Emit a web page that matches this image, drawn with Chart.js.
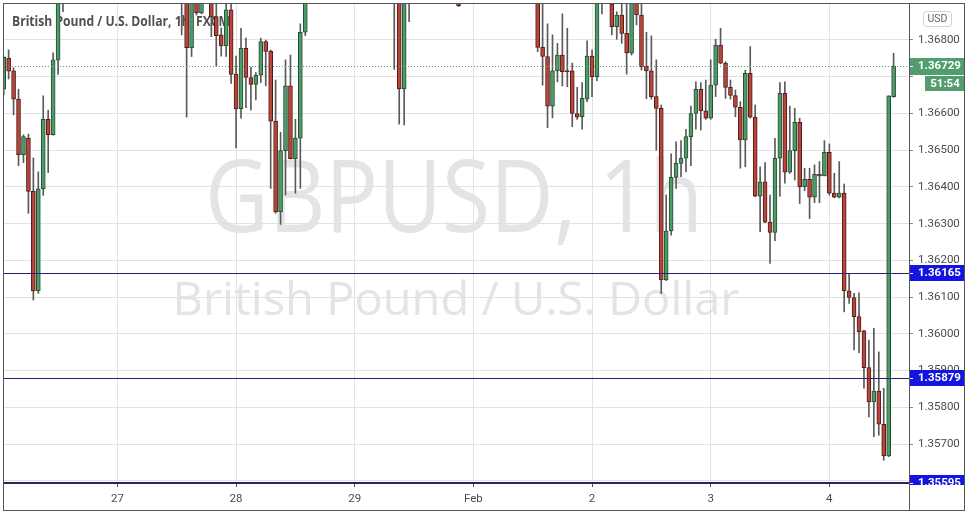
<!DOCTYPE html>
<html><head><meta charset="utf-8">
<script src="https://cdn.jsdelivr.net/npm/chart.js@4.4.1/dist/chart.umd.min.js"></script>
<style>html,body{margin:0;padding:0;background:#fff;overflow:hidden}#wrap{width:972px;height:516px}</style>
</head><body><div id="wrap"><canvas id="c" width="972" height="516"></canvas></div>
<script>
const _ = null;
// day boundary labels on the time axis and the hourly bar index where each day starts
const dayLabels = ['27', '28', '29', 'Feb', '2', '3', '4'];
const dayStarts = [23, 47, 71, 95, 119, 143, 167];
// price axis tick labels
const priceTicks = [1.356, 1.357, 1.358, 1.359, 1.360, 1.361, 1.362, 1.363, 1.364, 1.365, 1.366, 1.367, 1.368];
// hourly GBPUSD candles (null = bar outside the visible price range)
const open = [
1.36666,1.36751,1.36716,1.36639,1.36488,1.36533,1.36388,1.36117,1.36395,1.36584,
1.36542,1.36745,1.36935,_,_,_,_,_,_,_,
_,_,_,_,_,_,_,_,_,_,
_,_,_,_,_,_,1.36960,1.36940,1.36779,1.36920,
1.36874,_,1.36920,1.36863,1.36814,1.36784,1.36882,1.36707,1.36613,1.36777,
1.36698,1.36679,1.36704,1.36796,1.36769,1.36579,1.36332,1.36499,1.36675,1.36477,
1.36533,1.36821,_,_,_,_,_,_,_,_,
_,_,_,_,_,_,_,_,_,1.36920,
1.36960,1.36667,1.36930,_,_,_,_,_,_,_,
_,_,1.36920,_,_,_,_,_,_,_,
_,_,_,_,_,_,_,_,1.36930,1.36780,
1.36755,1.36620,1.36716,1.36759,1.36717,1.36716,1.36600,1.36591,1.36639,1.36756,
1.36700,1.36940,_,1.36898,1.36836,1.36868,1.36818,1.36764,1.36930,1.36868,
1.36729,1.36716,1.36646,1.36614,1.36147,1.36280,1.36426,1.36464,1.36478,1.36537,
1.36600,1.36666,1.36607,1.36587,1.36677,1.36786,1.36737,1.36671,1.36649,1.36617,
1.36528,1.36709,1.36590,1.36375,1.36414,1.36304,1.36276,1.36478,1.36655,1.36440,
1.36499,1.36576,1.36401,1.36421,1.36372,1.36434,1.36430,1.36494,1.36383,1.36372,
1.36383,1.36117,1.36099,1.36047,1.36008,1.35908,1.35815,1.35844,1.35754,1.35668,
1.36646];
const high = [
1.36756,1.36773,1.36724,1.36666,1.36542,1.36544,1.36479,1.36441,1.36648,1.36609,
1.36765,1.36950,1.36975,_,_,_,_,_,_,_,
_,_,_,_,_,_,_,_,_,_,
_,_,_,_,_,_,1.36990,1.36960,1.36950,1.36940,
1.36945,_,1.36940,1.36910,1.36833,1.36898,1.36905,1.36756,1.36832,1.36805,
1.36726,1.36711,1.36805,1.36800,1.36773,1.36691,1.36549,1.36746,1.36759,1.36584,
1.36844,1.36950,_,_,_,_,_,_,_,_,
_,_,_,_,_,_,_,_,_,1.36980,
1.36980,1.36960,1.36980,_,_,_,_,_,_,_,
_,_,1.36940,_,_,_,_,_,_,_,
_,_,_,_,_,_,_,_,1.36950,1.36905,
1.36844,1.36814,1.36791,1.36871,1.36832,1.36737,1.36671,1.36684,1.36798,1.36773,
1.36950,1.36960,_,1.36920,1.36877,1.36898,1.36910,1.36940,1.36950,1.36905,
1.36821,1.36811,1.36746,1.36623,1.36378,1.36490,1.36523,1.36526,1.36557,1.36620,
1.36686,1.36684,1.36691,1.36746,1.36802,1.36832,1.36741,1.36691,1.36664,1.36632,
1.36718,1.36782,1.36623,1.36455,1.36466,1.36378,1.36532,1.36684,1.36686,1.36620,
1.36614,1.36587,1.36451,1.36451,1.36460,1.36469,1.36526,1.36517,1.36437,1.36469,
1.36408,1.36163,1.36110,1.36112,1.36010,1.35983,1.36015,1.35951,1.35852,1.36648,
1.36764];
const low = [
1.36650,1.36694,1.36596,1.36458,1.36466,1.36328,1.36092,1.36110,1.36377,1.36439,
1.36541,1.36706,1.36877,_,_,_,_,_,_,_,
_,_,_,_,_,_,_,_,_,_,
_,_,_,_,_,_,1.36814,1.36590,1.36755,1.36868,
1.36871,_,1.36809,1.36729,1.36756,1.36755,1.36682,1.36506,1.36587,1.36616,
1.36609,1.36637,1.36684,1.36675,1.36396,1.36328,1.36298,1.36378,1.36476,1.36383,
1.36396,1.36812,_,_,_,_,_,_,_,_,
_,_,_,_,_,_,_,_,_,1.36720,
1.36571,1.36569,1.36850,_,_,_,_,_,_,_,
_,_,1.36891,_,_,_,_,_,_,_,
_,_,_,_,_,_,_,_,1.36768,1.36677,
1.36561,1.36588,1.36686,1.36675,1.36673,1.36564,1.36584,1.36557,1.36632,1.36646,
1.36689,1.36871,_,1.36814,1.36802,1.36791,1.36707,1.36759,1.36841,1.36718,
1.36640,1.36639,1.36500,1.36110,1.36145,1.36269,1.36396,1.36428,1.36441,1.36458,
1.36557,1.36555,1.36584,1.36584,1.36646,1.36735,1.36641,1.36639,1.36591,1.36451,
1.36455,1.36587,1.36373,1.36278,1.36303,1.36192,1.36254,1.36375,1.36410,1.36437,
1.36419,1.36355,1.36390,1.36314,1.36357,1.36357,1.36430,1.36378,1.36370,1.36370,
1.36060,1.36083,1.35956,1.35949,1.35852,1.35774,1.35720,1.35724,1.35656,1.35666,
1.36644];
const close = [
1.36753,1.36715,1.36639,1.36488,1.36537,1.36388,1.36117,1.36395,1.36584,1.36542,
1.36746,1.36930,1.36955,_,_,_,_,_,_,_,
_,_,_,_,_,_,_,_,_,_,
_,_,_,_,_,_,1.36920,1.36779,1.36930,1.36874,
1.36925,_,1.36863,1.36812,1.36784,1.36882,1.36706,1.36613,1.36777,1.36698,
1.36679,1.36704,1.36796,1.36769,1.36579,1.36332,1.36499,1.36675,1.36477,1.36533,
1.36821,1.36930,_,_,_,_,_,_,_,_,
_,_,_,_,_,_,_,_,_,1.36960,
1.36667,1.36930,1.36960,_,_,_,_,_,_,_,
_,_,1.36893,_,_,_,_,_,_,_,
_,_,_,_,_,_,_,_,1.36780,1.36755,
1.36620,1.36716,1.36759,1.36714,1.36714,1.36600,1.36590,1.36641,1.36756,1.36700,
1.36930,1.36920,_,1.36836,1.36868,1.36818,1.36765,1.36920,1.36868,1.36727,
1.36716,1.36646,1.36614,1.36147,1.36280,1.36426,1.36464,1.36478,1.36537,1.36600,
1.36666,1.36607,1.36587,1.36677,1.36786,1.36737,1.36671,1.36649,1.36617,1.36528,
1.36709,1.36590,1.36375,1.36414,1.36304,1.36276,1.36478,1.36655,1.36440,1.36499,
1.36576,1.36401,1.36421,1.36372,1.36434,1.36430,1.36494,1.36383,1.36372,1.36383,
1.36117,1.36099,1.36047,1.36006,1.35908,1.35815,1.35844,1.35754,1.35668,1.36648,
1.36729];
// horizontal level lines and their labels
const levels = [1.36165, 1.35879, 1.35595];
const lastPrice = 1.36729;
const countdown = '51:54';
const currency = 'USD';
const titleText = 'British Pound / U.S. Dollar, 1h, FXCM';
const watermarkMain = 'GBPUSD, 1h';
const watermarkSub = 'British Pound / U.S. Dollar';

// styles
const UP = '#4f9a6b', UPB = '#24502f', DN = '#b8443a', DNB = '#4f1d18', WICK = '#5a5a5a';
const GRID = '#e2e2e2', TXT = '#4a4a4a', FRAME = '#555555';
const LEVEL_LINE = '#24246e', LEVEL_BOX = '#1414e0', LAST_BOX = '#529d6d';
const AXIS_FONT = {family: 'Roboto', size: 11.5};

const bodies = [], wicks = [];
open.forEach((o, i) => {
  if (o === null) return;
  const up = close[i] >= o;
  bodies.push({x: i, y: [o, close[i]], up});
  wicks.push({x: i, y: [low[i], high[i]], up});
});

function fitText(c, txt, x, y, w, font, align) {
  c.font = font;
  const m = c.measureText(txt).width;
  const s = Math.min(1.2, w / m);
  c.save(); c.translate(x, y); c.scale(s, 1);
  c.textAlign = align; c.textBaseline = 'alphabetic';
  c.fillText(txt, 0, 0); c.restore();
}

const tvPlugin = {
  id: 'tv',
  beforeDraw(chart) {
    const c = chart.ctx, a = chart.chartArea;
    c.save();
    c.fillStyle = '#ffffff'; c.fillRect(0, 0, chart.width, chart.height);
    c.beginPath(); c.rect(a.left, a.top, a.right - a.left, a.bottom - a.top); c.clip();
    c.fillStyle = '#e4e4e4';
    const cx = (a.left + a.right) / 2;
    fitText(c, watermarkMain, cx - 2, 232, 498, '100px "Open Sans"', 'center');
    fitText(c, watermarkSub, cx, 315, 567, '45px "Open Sans"', 'center');
    c.restore();
  },
  beforeDatasetsDraw(chart) {
    const c = chart.ctx;
    c.save();
    c.fillStyle = '#505050';
    fitText(c, titleText, 12, 25.5, 218, 'bold 13.5px "Open Sans"', 'left');
    c.restore();
  },
  afterDatasetsDraw(chart) {
    const c = chart.ctx, a = chart.chartArea, ys = chart.scales.y;
    c.save();
    const yl = Math.round(ys.getPixelForValue(lastPrice)) + 0.5;
    c.strokeStyle = LAST_BOX; c.lineWidth = 1; c.setLineDash([1, 2]);
    c.beginPath(); c.moveTo(a.left, yl); c.lineTo(a.right, yl); c.stroke();
    c.setLineDash([]);
    c.strokeStyle = LEVEL_LINE;
    levels.forEach(v => {
      const y = Math.floor(ys.getPixelForValue(v)) + 0.5;
      c.beginPath(); c.moveTo(a.left, y); c.lineTo(a.right, y); c.stroke();
    });
    c.restore();
  },
  afterDraw(chart) {
    const c = chart.ctx, a = chart.chartArea, ys = chart.scales.y;
    const R = 965, B = 511, T = 3, L = 3;
    c.save();
    c.strokeStyle = FRAME; c.lineWidth = 1;
    c.strokeRect(L + 0.5, T + 0.5, R - L - 1, B - T - 1);
    c.beginPath(); c.moveTo(a.right + 0.5, T); c.lineTo(a.right + 0.5, B); c.stroke();
    c.strokeStyle = '#2a2a55';
    c.beginPath(); c.moveTo(L, a.bottom + 0.5); c.lineTo(a.right, a.bottom + 0.5); c.stroke();
    c.beginPath(); c.rect(a.right + 1, T + 1, R - a.right - 2, a.bottom - T + 1); c.clip();
    const boxW = R - a.right - 1;
    function box(v, color, text, h) {
      const y = ys.getPixelForValue(v);
      c.fillStyle = color;
      c.fillRect(a.right + 1, Math.round(y - 8), boxW, h);
      c.strokeStyle = '#ffffff';
      c.beginPath(); c.moveTo(a.right + 1, Math.round(y) + 0.5); c.lineTo(a.right + 4, Math.round(y) + 0.5); c.stroke();
      c.fillStyle = '#ffffff';
      c.font = 'bold 11.5px Roboto';
      c.textAlign = 'left'; c.textBaseline = 'middle';
      c.fillText(text, a.right + 9, Math.round(y) + 0.5);
    }
    levels.forEach(v => box(v, LEVEL_BOX, v.toFixed(5), 16));
    box(lastPrice, LAST_BOX, lastPrice.toFixed(5), 17);
    const yl = Math.round(ys.getPixelForValue(lastPrice));
    c.fillStyle = LAST_BOX;
    c.fillRect(925, yl + 10, R - 925, 15);
    c.fillStyle = '#ffffff'; c.font = 'bold 11.5px Roboto'; c.textAlign = 'center'; c.textBaseline = 'middle';
    c.fillText(countdown, 945, yl + 18);
    c.fillStyle = '#ffffff'; c.strokeStyle = '#cfd2d8';
    c.beginPath(); c.roundRect(923.5, 11.5, 28, 15, 3); c.fill(); c.stroke();
    c.fillStyle = '#666666'; c.font = '10.5px Roboto'; c.textAlign = 'center'; c.textBaseline = 'middle';
    c.fillText(currency, 937.5, 19.5);
    c.restore();
  }
};

new Chart(document.getElementById('c'), {
  type: 'bar',
  data: {
    datasets: [
      {label: 'body', data: bodies, order: 1, grouped: false, barThickness: 4, borderWidth: 1, borderSkipped: false,
       backgroundColor: ctx => (ctx.raw && ctx.raw.up) ? UP : DN,
       borderColor: ctx => (ctx.raw && ctx.raw.up) ? UPB : DNB},
      {label: 'wick', data: wicks, order: 2, grouped: false, barThickness: 1, borderWidth: 0, backgroundColor: WICK}
    ]
  },
  options: {
    responsive: false, animation: false, events: [],
    layout: {padding: {left: 3, top: 3, right: 7, bottom: 5}},
    plugins: {legend: {display: false}, tooltip: {enabled: false}},
    scales: {
      x: {
        type: 'linear', min: -0.14, max: 183.11, offset: false, position: 'bottom',
        afterBuildTicks: s => { s.ticks = dayStarts.map(v => ({value: v})); },
        afterFit: s => { s.height = 28; s.paddingLeft = 0; s.paddingRight = 0; s.paddingTop = 0; s.paddingBottom = 0; },
        ticks: {autoSkip: false, maxRotation: 0, padding: 5, color: TXT, font: AXIS_FONT,
                callback: (v, i) => dayLabels[i]},
        grid: {color: GRID, offset: false, tickLength: 4, tickColor: '#555555'},
        border: {display: false}
      },
      y: {
        type: 'linear', position: 'right', min: 1.35594, max: 1.369007,
        afterBuildTicks: s => { s.ticks = priceTicks.map(v => ({value: v})); },
        afterFit: s => { s.width = 56; s.paddingLeft = 0; s.paddingRight = 0; s.paddingTop = 0; s.paddingBottom = 0; },
        ticks: {padding: 5, color: TXT, font: AXIS_FONT,
                // labels under the last-price / countdown badges are hidden, as in the reference
                callback: v => (v > lastPrice - 0.0007 && v < lastPrice + 0.0003) ? '' : Number(v).toFixed(5)},
        grid: {color: GRID, tickLength: 4, tickColor: '#888888'},
        border: {display: false}
      }
    }
  },
  plugins: [tvPlugin]
});
</script>
</body></html>
